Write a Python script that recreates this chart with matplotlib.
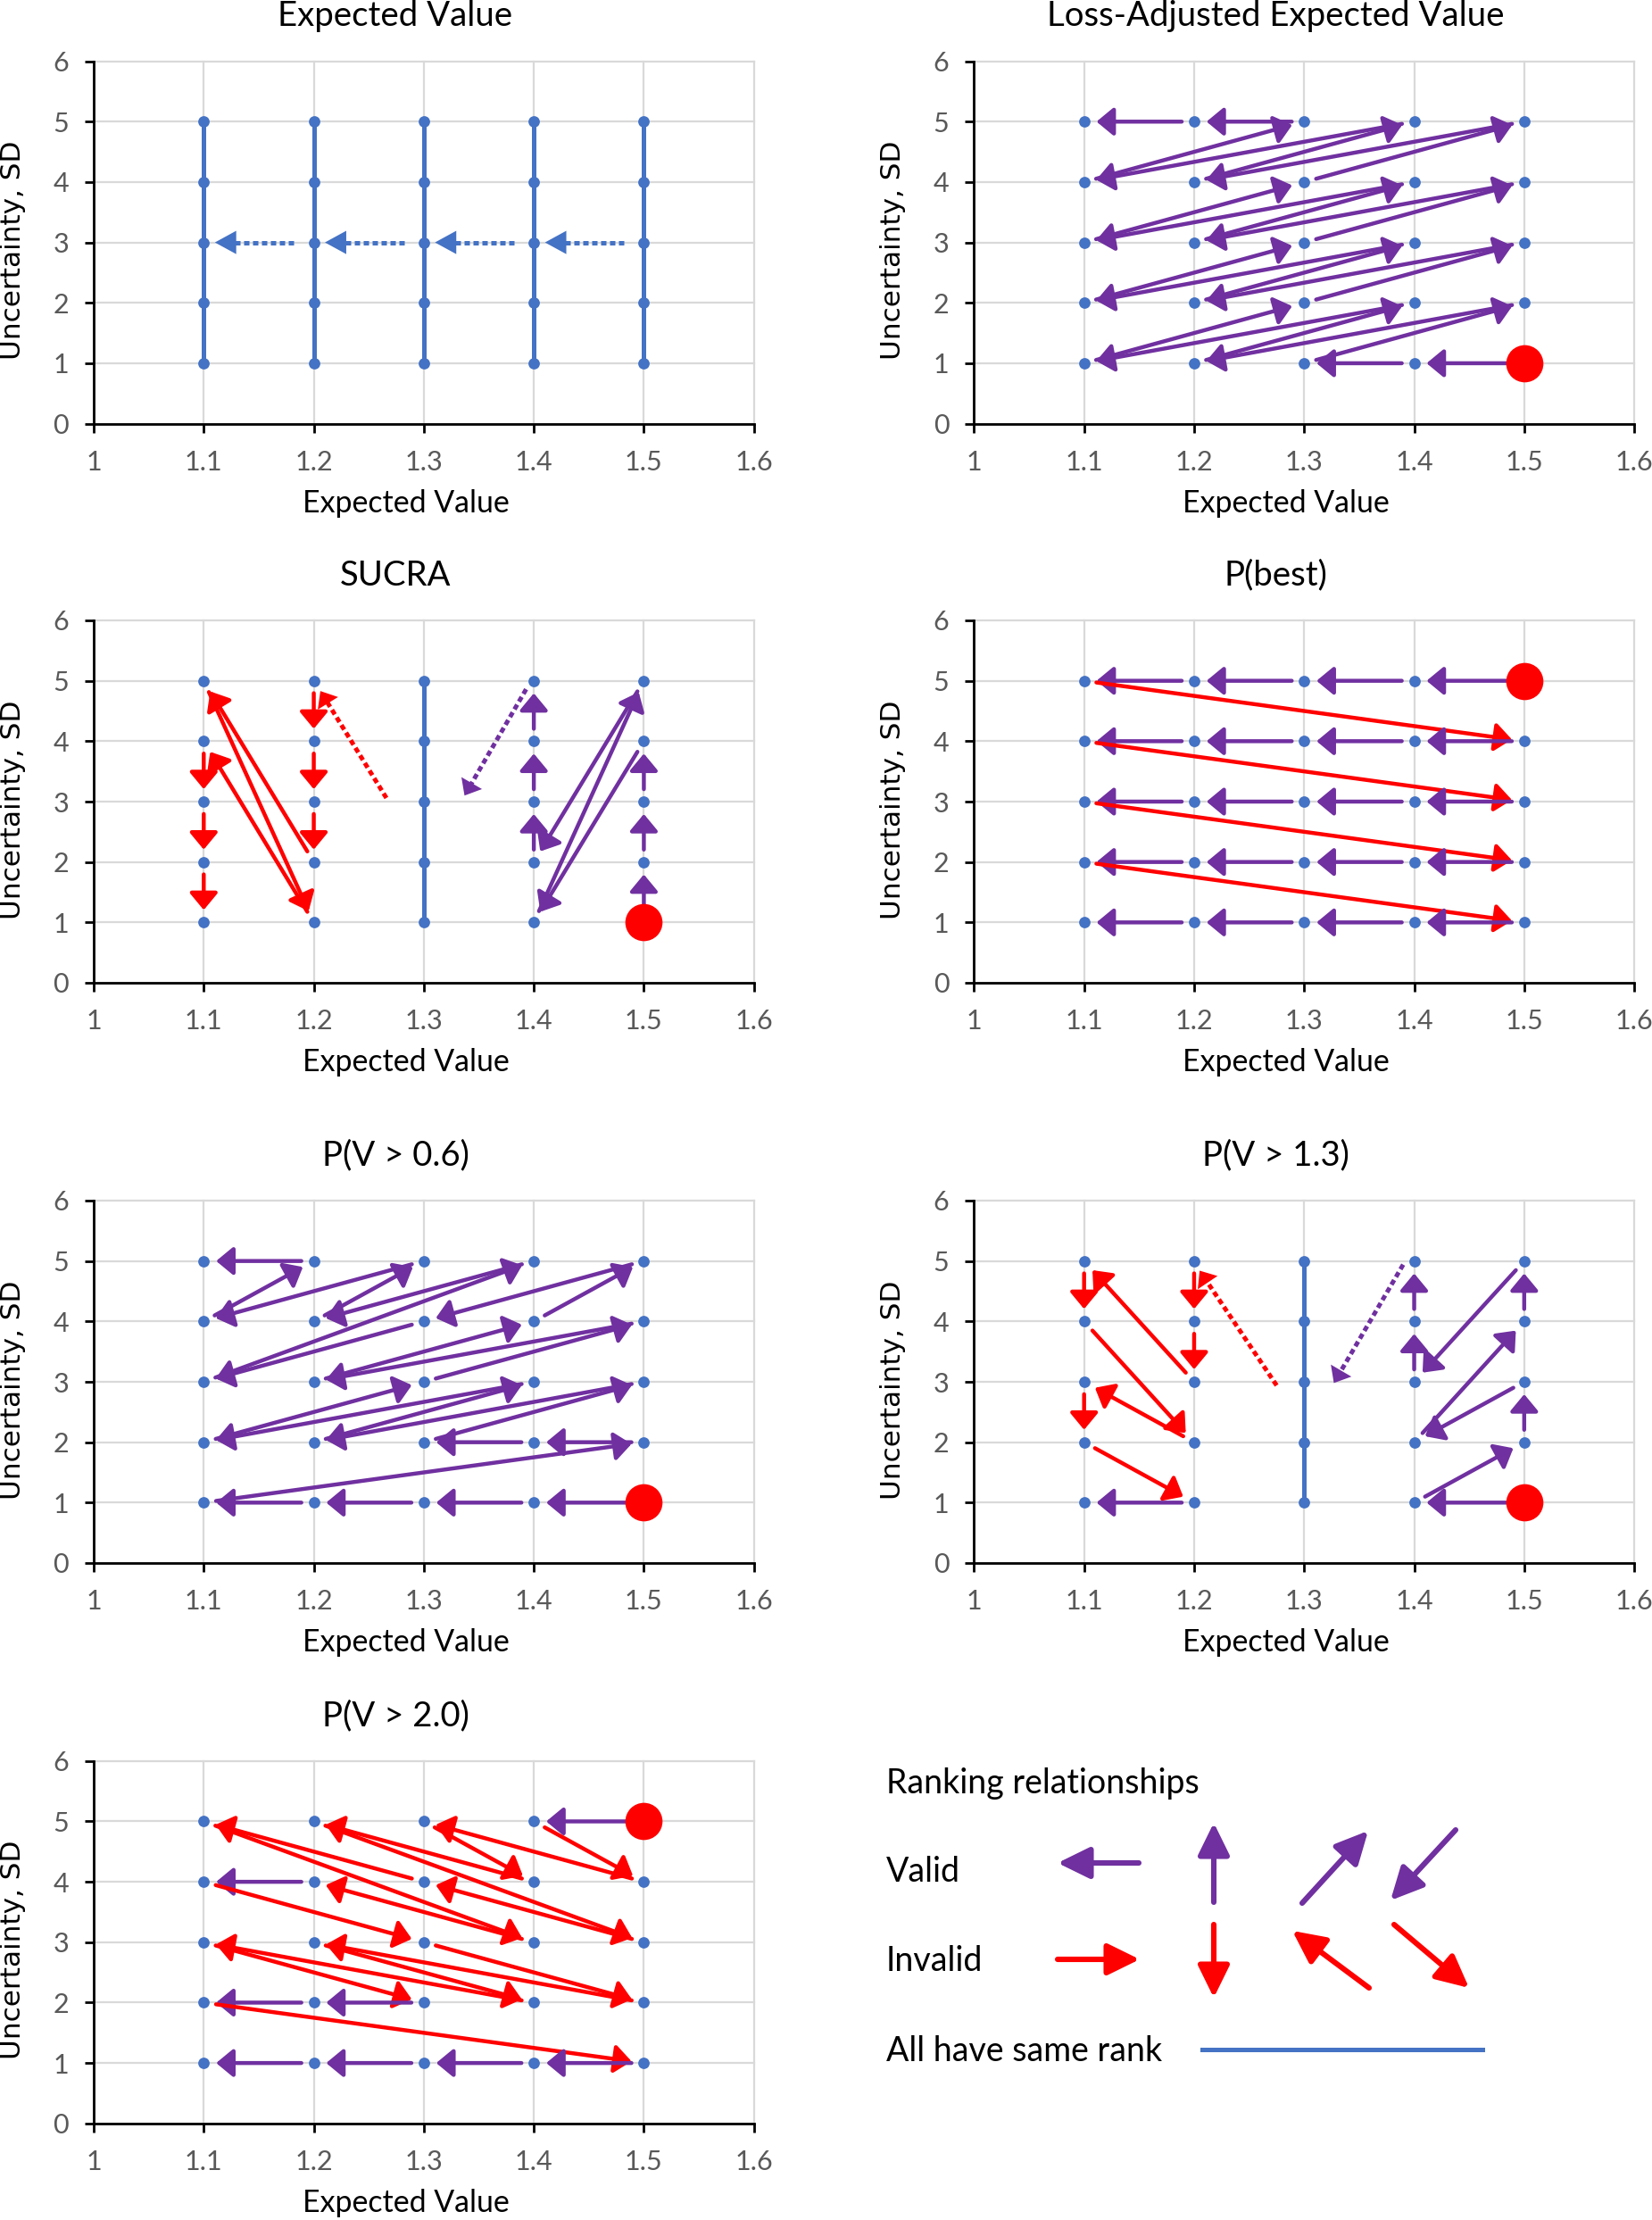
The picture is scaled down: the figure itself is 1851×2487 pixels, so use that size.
import matplotlib
matplotlib.use("Agg")
import matplotlib.pyplot as plt
import numpy as np

plt.rcParams["font.family"] = ["Lato", "DejaVu Sans"]

BLUE = "#4472C4"
PURPLE = "#7030A0"
RED = "#FF0000"
GRID = "#D9D9D9"
TICK_GRAY = "#595959"

# grid of alternatives
EV_VALUES = [1.1, 1.2, 1.3, 1.4, 1.5]
SD_VALUES = [1, 2, 3, 4, 5]
X_TICKS = [1.0, 1.1, 1.2, 1.3, 1.4, 1.5, 1.6]
X_TICK_LABELS = ["1", "1.1", "1.2", "1.3", "1.4", "1.5", "1.6"]
Y_TICKS = [0, 1, 2, 3, 4, 5, 6]
Y_TICK_LABELS = ["0", "1", "2", "3", "4", "5", "6"]

# Expected Value: every column is one rank, dotted steps between columns
EV_TIED = [1.1, 1.2, 1.3, 1.4, 1.5]
EV_STEPS = [(1.5, 3), (1.4, 3), (1.3, 3), (1.2, 3), (1.1, 3)]

# Loss-Adjusted Expected Value
LAEV_BEST = (1.5, 1)
LAEV_ORDER = [(1.5, 1), (1.4, 1), (1.3, 1), (1.5, 2), (1.2, 1), (1.4, 2), (1.1, 1),
              (1.3, 2), (1.5, 3), (1.2, 2), (1.4, 3), (1.1, 2), (1.3, 3), (1.5, 4),
              (1.2, 3), (1.4, 4), (1.1, 3), (1.3, 4), (1.5, 5), (1.2, 4), (1.4, 5),
              (1.1, 4), (1.3, 5), (1.2, 5), (1.1, 5)]

# SUCRA
SUCRA_BEST = (1.5, 1)
SUCRA_TOP = [(1.5, 1), (1.5, 2), (1.5, 3), (1.5, 4), (1.4, 1), (1.5, 5), (1.4, 2),
             (1.4, 3), (1.4, 4), (1.4, 5)]
SUCRA_BOTTOM = [(1.2, 5), (1.2, 4), (1.2, 3), (1.2, 2), (1.1, 5), (1.2, 1), (1.1, 4),
                (1.1, 3), (1.1, 2), (1.1, 1)]
SUCRA_TIED = [1.3]
SUCRA_LINKS = [((1.393, 4.86), (1.337, 3.10)), ((1.266, 3.06), (1.206, 4.83))]

# P(best)
PBEST_BEST = (1.5, 5)
PBEST_ORDER = [(1.5, 5), (1.4, 5), (1.3, 5), (1.2, 5), (1.1, 5),
               (1.5, 4), (1.4, 4), (1.3, 4), (1.2, 4), (1.1, 4),
               (1.5, 3), (1.4, 3), (1.3, 3), (1.2, 3), (1.1, 3),
               (1.5, 2), (1.4, 2), (1.3, 2), (1.2, 2), (1.1, 2),
               (1.5, 1), (1.4, 1), (1.3, 1), (1.2, 1), (1.1, 1)]

# P(V > 0.6)
P06_BEST = (1.5, 1)
P06_ORDER = [(1.5, 1), (1.4, 1), (1.3, 1), (1.2, 1), (1.1, 1), (1.5, 2), (1.4, 2),
             (1.3, 2), (1.5, 3), (1.2, 2), (1.4, 3), (1.1, 2), (1.3, 3), (1.5, 4),
             (1.2, 3), (1.4, 4), (1.5, 5), (1.3, 4), (1.1, 3), (1.4, 5), (1.2, 4),
             (1.3, 5), (1.1, 4), (1.2, 5), (1.1, 5)]

# P(V > 1.3)
P13_BEST = (1.5, 1)
P13_TOP = [(1.5, 1), (1.4, 1), (1.5, 2), (1.5, 3), (1.4, 2), (1.5, 4), (1.5, 5),
           (1.4, 3), (1.4, 4), (1.4, 5)]
P13_BOTTOM = [(1.2, 5), (1.2, 4), (1.2, 3), (1.1, 5), (1.1, 4), (1.2, 2), (1.1, 3),
              (1.1, 2), (1.2, 1), (1.1, 1)]
P13_TIED = [1.3]
P13_LINKS = [((1.390, 4.94), (1.327, 2.98)), ((1.275, 2.94), (1.205, 4.84))]

# P(V > 2.0)
P20_BEST = (1.5, 5)
P20_ORDER = [(1.5, 5), (1.4, 5), (1.5, 4), (1.3, 5), (1.4, 4), (1.2, 5), (1.5, 3),
             (1.3, 4), (1.1, 5), (1.4, 3), (1.2, 4), (1.1, 4), (1.3, 3), (1.5, 2),
             (1.2, 3), (1.4, 2), (1.1, 3), (1.3, 2), (1.2, 2), (1.1, 2), (1.5, 1),
             (1.4, 1), (1.3, 1), (1.2, 1), (1.1, 1)]

# legend glyphs, in image pixels (x, y down)
LEGEND_VALID = [((1276, 2087), (1185, 2087)), ((1360, 2131), (1360, 2042)),
                ((1459, 2132), (1533, 2051)), ((1631, 2050), (1558, 2129))]
LEGEND_INVALID = [((1185, 2195), (1277, 2195)), ((1360, 2156), (1360, 2238)),
                  ((1534, 2227), (1448, 2163)), ((1562, 2156), (1646, 2227))]
LEGEND_TIE = ((1347, 1661), 2296)

DPI = 200


def arrow_color(a, b):
    dx = b[0] - a[0]
    dy = b[1] - a[1]
    valid = (dx < 0 and abs(dy) < 1e-9) or (abs(dx) < 1e-9 and dy > 0) or dx * dy > 0
    return PURPLE if valid else RED


def arrow(ax, a, b, color, lw=1.6, sa=5, sb=5, hl=5.8, hw=4.8):
    ax.annotate("", xy=b, xytext=a,
                arrowprops=dict(arrowstyle=f"-|>,head_length={hl},head_width={hw}",
                                color=color, lw=lw, shrinkA=sa, shrinkB=sb,
                                mutation_scale=1),
                zorder=3)


def dotted_arrow(ax, a, b, color, sa=0, sb=0, hl=5.8, hw=4.8):
    # dotted shaft drawn as a line, solid head with no outline
    pa = ax.transData.transform(a)
    pb = ax.transData.transform(b)
    d = pb - pa
    u = d / np.hypot(*d)
    px = DPI / 72.0
    tail = pa + u * sa * px
    shaft_end = pb - u * (sb + hl * 0.7) * px
    inv = ax.transData.inverted()
    t0 = inv.transform(tail)
    t1 = inv.transform(shaft_end)
    ax.plot([t0[0], t1[0]], [t0[1], t1[1]], color=color, lw=1.8,
            linestyle=(0, (1.2, 0.8)), dash_capstyle="butt", zorder=3)
    ax.annotate("", xy=b, xytext=a,
                arrowprops=dict(arrowstyle=f"-|>,head_length={hl},head_width={hw}",
                                color=color, lw=0, shrinkA=sa, shrinkB=sb,
                                mutation_scale=1),
                zorder=3)


def chain(ax, order, best):
    for a, b in zip(order[:-1], order[1:]):
        sa = 7 if a == best else 5
        arrow(ax, a, b, arrow_color(a, b), sa=sa)


def base(ax, title, tied=(), best=None):
    ax.set_xlim(1.0, 1.6)
    ax.set_ylim(0, 6)
    ax.set_xticks(X_TICKS)
    ax.set_xticklabels(X_TICK_LABELS)
    ax.set_yticks(Y_TICKS)
    ax.set_yticklabels(Y_TICK_LABELS)
    ax.grid(True, color=GRID, lw=0.8, zorder=0)
    ax.set_axisbelow(True)
    for gl in ax.get_xgridlines() + ax.get_ygridlines():
        gl.set_clip_on(False)
    for s in ["top", "right"]:
        ax.spines[s].set_visible(False)
    for s in ["left", "bottom"]:
        ax.spines[s].set_linewidth(1.0)
        ax.spines[s].set_zorder(4)
    ax.tick_params(direction="out", length=3.6, width=1.0, color="black",
                   labelcolor=TICK_GRAY, labelsize=11)
    ax.tick_params(axis="x", pad=7.0)
    ax.tick_params(axis="y", pad=6.5)
    ax.text(0.457, 1.097, title, transform=ax.transAxes, ha="center", va="baseline",
            fontsize=13.8)
    ax.text(0.473, -0.245, "Expected Value", transform=ax.transAxes, ha="center",
            va="baseline", fontsize=12.2)
    ax.text(-0.123, 0.478, "Uncertainty, SD", transform=ax.transAxes, ha="center",
            va="center", rotation=90, fontsize=11.2, family="DejaVu Sans")

    for x in tied:
        ax.plot([x, x], [min(SD_VALUES), max(SD_VALUES)], color=BLUE, lw=1.8,
                zorder=2, solid_capstyle="round")
    px = [x for x in EV_VALUES for y in SD_VALUES]
    py = [y for x in EV_VALUES for y in SD_VALUES]
    ax.plot(px, py, "o", color=BLUE, ms=4.6, zorder=5, mew=0)
    if best is not None:
        ax.plot([best[0]], [best[1]], "o", color=RED, ms=15, zorder=6, mew=0)


W, H = 1851, 2487
fig = plt.figure(figsize=(W / DPI, H / DPI), dpi=DPI)

col_left = [105 / W, 1091.4 / W]
col_width = 739.7 / W
row_bottom = [474.6 / H, 1101 / H, 1751 / H, 2378.8 / H]
row_height = 406 / H


def panel(r, c):
    return fig.add_axes([col_left[c], 1 - row_bottom[r], col_width, row_height])


# Expected Value
ax = panel(0, 0)
base(ax, "Expected Value", tied=EV_TIED)
for a, b in zip(EV_STEPS[:-1], EV_STEPS[1:]):
    dotted_arrow(ax, a, b, BLUE, sa=8, sb=4.5, hl=8.6, hw=4.7)

# Loss-Adjusted Expected Value
ax = panel(0, 1)
base(ax, "Loss-Adjusted Expected Value", best=LAEV_BEST)
chain(ax, LAEV_ORDER, LAEV_BEST)

# SUCRA
ax = panel(1, 0)
base(ax, "SUCRA", tied=SUCRA_TIED, best=SUCRA_BEST)
chain(ax, SUCRA_TOP, SUCRA_BEST)
chain(ax, SUCRA_BOTTOM, SUCRA_BEST)
for a, b in SUCRA_LINKS:
    dotted_arrow(ax, a, b, arrow_color(a, b))

# P(best)
ax = panel(1, 1)
base(ax, "P(best)", best=PBEST_BEST)
chain(ax, PBEST_ORDER, PBEST_BEST)

# P(V > 0.6)
ax = panel(2, 0)
base(ax, "P(V > 0.6)", best=P06_BEST)
chain(ax, P06_ORDER, P06_BEST)

# P(V > 1.3)
ax = panel(2, 1)
base(ax, "P(V > 1.3)", tied=P13_TIED, best=P13_BEST)
chain(ax, P13_TOP, P13_BEST)
chain(ax, P13_BOTTOM, P13_BEST)
for a, b in P13_LINKS:
    dotted_arrow(ax, a, b, arrow_color(a, b))

# P(V > 2.0)
ax = panel(3, 0)
base(ax, "P(V > 2.0)", best=P20_BEST)
chain(ax, P20_ORDER, P20_BEST)

# legend cell
leg = fig.add_axes([925 / W, 0, (W - 925) / W, 600 / H])
leg.set_xlim(925, W)
leg.set_ylim(H, 1887)
leg.axis("off")
for txt, yb in [("Ranking relationships", 2009), ("Valid", 2108), ("Invalid", 2208),
                ("All have same rank", 2309)]:
    leg.text(993, yb, txt, ha="left", va="baseline", fontsize=13.5)
for a, b in LEGEND_VALID:
    arrow(leg, a, b, PURPLE, lw=2.2, sa=0, sb=0, hl=11, hw=5.4)
for a, b in LEGEND_INVALID:
    arrow(leg, a, b, RED, lw=2.2, sa=0, sb=0, hl=11, hw=5.4)
leg.plot(LEGEND_TIE[0], [LEGEND_TIE[1], LEGEND_TIE[1]], color=BLUE, lw=1.8)

fig.savefig("out.png", dpi=DPI, facecolor="white")
